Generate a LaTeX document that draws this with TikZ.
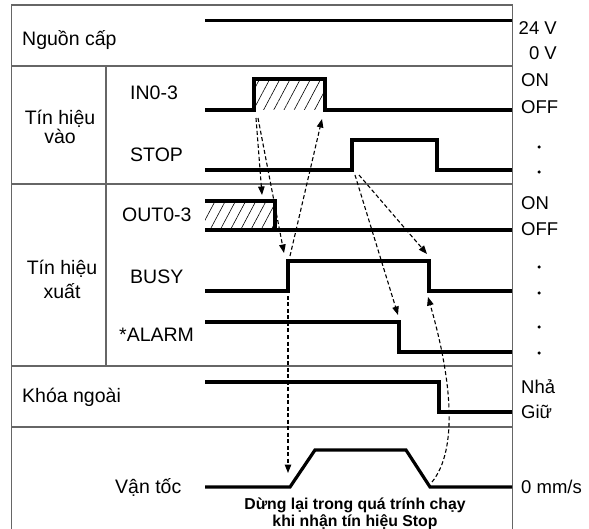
\documentclass[tikz,border=0pt]{standalone}
\usepackage{fontspec}
\setmainfont{Liberation Sans}
\usetikzlibrary{arrows.meta, patterns.meta}
\definecolor{framegray}{HTML}{666666}

\begin{document}
\begin{tikzpicture}[x=1pt, y=-1pt,
    frame/.style={draw=framegray, line width=1.2pt},
    wave/.style={line width=3.2pt},
    flow/.style={dash pattern=on 4pt off 2.5pt, line width=1.1pt, -{Triangle[length=8.5pt,width=6.5pt]}},
    hatch/.style={pattern={Lines[angle=62,distance=9pt,line width=0.6pt]}},
    grp/.style={font=\fontsize{19.5}{22}\selectfont, inner sep=0pt},
    sig/.style={font=\fontsize{19.5}{22}\selectfont, anchor=west, inner sep=0pt},
    lvl/.style={font=\fontsize{18.5}{22}\selectfont, anchor=west, inner sep=0pt},
    tick/.style={circle, fill, inner sep=0pt, minimum size=3.5pt}]
  \useasboundingbox (0,0) rectangle (589,529);

  % Khung bang
  \draw[frame] (11.5,529) -- (11.5,5) -- (512.5,5) -- (512.5,529);
  \draw[frame] (11.5,66) -- (512.5,66);
  \draw[frame] (11.5,184) -- (512.5,184);
  \draw[frame] (11.5,366) -- (512.5,366);
  \draw[frame] (11.5,427) -- (512.5,427);
  \draw[frame] (106,66) -- (106,366);

  % Nhan ben trai
  \node[grp, anchor=west] (nguon) at (22,40) {Nguồn cấp};
  \node[grp, align=center, font=\fontsize{19.5}{17}\selectfont] (vao) at (60,127) {Tín hiệu\\vào};
  \node[grp, align=center, font=\fontsize{19.5}{24}\selectfont] (xuat) at (62,279) {Tín hiệu\\xuất};
  \node[grp, anchor=west] (khoa) at (22,397) {Khóa ngoài};
  \node[sig] (in) at (130,93) {IN0-3};
  \node[sig] (stop) at (130,155) {STOP};
  \node[sig] (out) at (122,215) {OUT0-3};
  \node[sig] (busy) at (130,277) {BUSY};
  \node[sig] (alarm) at (119,335) {*ALARM};
  \node[sig] (vantoc) at (115,487) {Vận tốc};

  % Nhan ben phai
  \node[lvl, anchor=east] (v24) at (557,28) {24 V};
  \node[lvl, anchor=east] (v0) at (557,53) {0 V};
  \node[lvl] (inon) at (521,80) {ON};
  \node[lvl] (inoff) at (521,107) {OFF};
  \node[tick] (t1) at (539,147) {};
  \node[tick] (t2) at (539,172) {};
  \node[lvl] (outon) at (521,203) {ON};
  \node[lvl] (outoff) at (521,229) {OFF};
  \node[tick] (t3) at (539,267) {};
  \node[tick] (t4) at (539,293) {};
  \node[tick] (t5) at (539,327) {};
  \node[tick] (t6) at (539,353) {};
  \node[lvl] (nha) at (521,387) {Nhả};
  \node[lvl] (giu) at (521,412) {Giữ};
  \node[lvl] (speed0) at (521,487) {0 mm/s};

  % Dang song
  \draw[wave] (205,20.5) -- (512,20.5);
  \fill[hatch] (254,79) rectangle (325,110);
  \draw[wave] (205,110) -- (254,110) -- (254,79) -- (325,79) -- (325,110) -- (512,110);
  \draw[wave] (205,170) -- (352,170) -- (352,140) -- (437,140) -- (437,170) -- (512,170);
  \fill[hatch] (205,201) rectangle (275,230);
  \draw[wave] (205,201) -- (275,201) -- (275,230);
  \draw[wave] (205,230) -- (512,230);
  \draw[wave] (205,291) -- (288,291) -- (288,261) -- (429,261) -- (429,291) -- (512,291);
  \draw[wave] (205,322) -- (399,322) -- (399,352) -- (512,352);
  \draw[wave] (205,382) -- (439,382) -- (439,412) -- (512,412);
  \draw[wave] (205,487) -- (290,487) -- (315,450) -- (406,450) -- (430,487) -- (512,487);

  % Diem moc
  \coordinate (inrise1) at (256,118);
  \coordinate (inrise2) at (258,118);
  \coordinate (infall) at (322,119);
  \coordinate (outend) at (262,195);
  \coordinate (busyrise) at (284,253);
  \coordinate (busyrisetop) at (290,256);
  \coordinate (busyrisebot) at (288,296);
  \coordinate (stoprise1) at (355,175);
  \coordinate (stoprise2) at (359,175);
  \coordinate (alarmfall) at (398,315);
  \coordinate (busyfall) at (427,254);
  \coordinate (busyfallbot) at (428,297);
  \coordinate (speedrise) at (288,473);
  \coordinate (speedend) at (432,482);

  % Mui ten net dut
  \draw[flow] (inrise1) -- (outend);
  \draw[flow] (inrise2) -- (busyrise);
  \draw[flow] (busyrisetop) -- (infall);
  \draw[flow] (stoprise1) -- (alarmfall);
  \draw[flow] (stoprise2) -- (busyfall);
  \draw[flow] (busyrisebot) -- (speedrise);
  \draw[flow] (speedend) .. controls (458,450) and (452,380) .. (busyfallbot);

  \node[font=\bfseries\fontsize{15.8}{17}\selectfont, align=center, inner sep=0pt] (note) at (355,513.5) {Dừng lại trong quá trính chạy\\khi nhận tín hiệu Stop};
\end{tikzpicture}
\end{document}
